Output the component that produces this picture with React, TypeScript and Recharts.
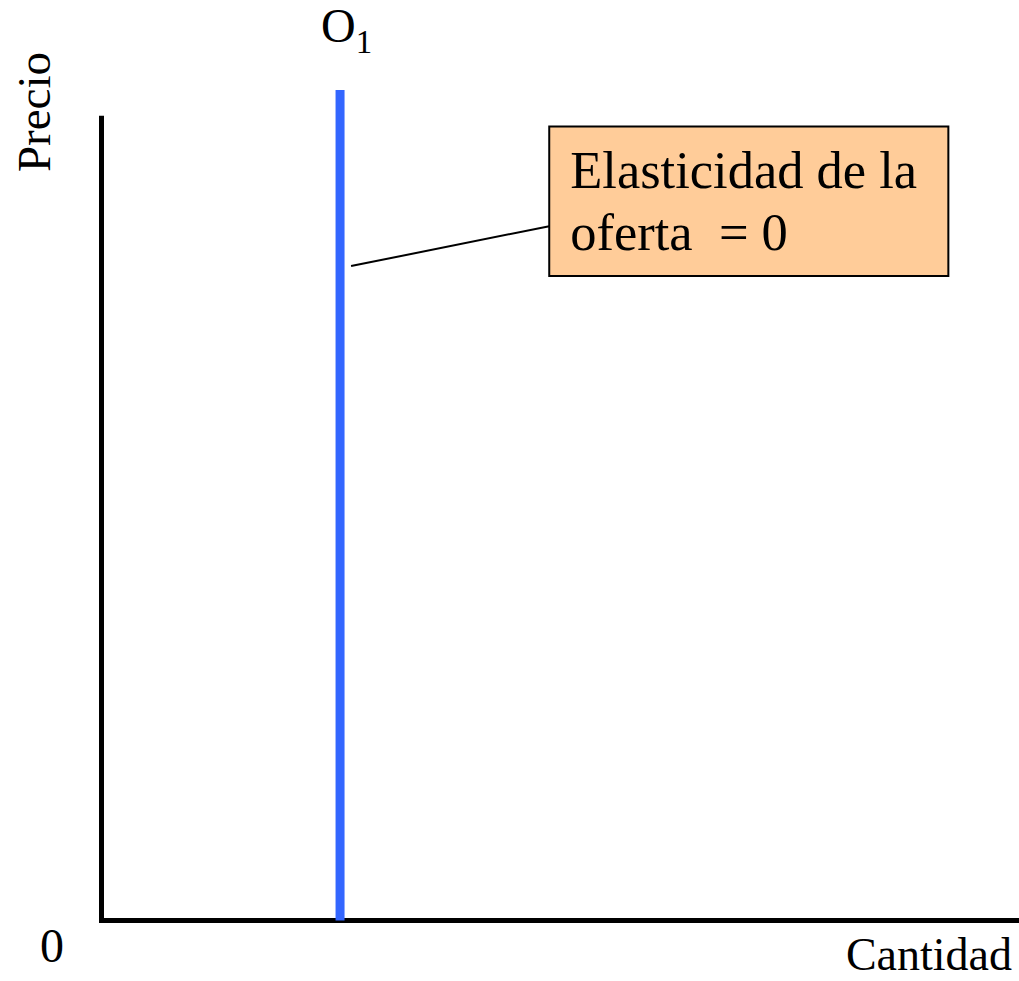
import { ComposedChart, Line, XAxis, YAxis, ReferenceLine, ReferenceArea, Customized } from 'recharts';

// supply curve O1: perfectly inelastic (vertical)
const supplyQty = [26, 26];
const supplyPrice = [0, 100];
const supplyData = supplyQty.map((q, i) => ({ q, p: supplyPrice[i] }));

// axes extents (data units)
const xAxisEnd = 100;
const yAxisEnd = 96.6;

// callout box + pointer (data units)
const boxX = [48.8, 92.3];
const boxY = [77.6, 95.6];
const pointerFrom = { x: 27.2, y: 78.8 };
const pointerTo = { x: 48.8, y: 83.6 };

const calloutLines = ['Elasticidad de la', 'oferta\u00a0 = 0'];
const curveName = 'O';
const curveSub = '1';
const yTitle = 'Precio';
const xTitle = 'Cantidad';
const originLabel = '0';

const serif = '"Liberation Serif", "Times New Roman", serif';

function CalloutText(props: any) {
  const { x, y } = props.viewBox;
  return (
    <g>
      {calloutLines.map((t, i) => (
        <text key={i} x={x + 21} y={y + 61.5 + i * 62} fontFamily={serif} fontSize={52.5} fill="#000">
          {t}
        </text>
      ))}
    </g>
  );
}

function Labels() {
  return (
    <g fontFamily={serif} fill="#000">
      <text x={321} y={42} fontSize={48}>
        {curveName}
        <tspan fontSize={33} dy={11}>{curveSub}</tspan>
      </text>
      <text x={50} y={112} fontSize={47} textAnchor="middle" transform="rotate(-90 50 112)">
        {yTitle}
      </text>
      <text x={1012} y={970} fontSize={46} textAnchor="end">{xTitle}</text>
      <text x={40} y={962} fontSize={48}>{originLabel}</text>
    </g>
  );
}

export default function App() {
  return (
    <div style={{ position: 'absolute', left: 0, top: 0, width: 1019, height: 981, background: '#fff' }}>
      <ComposedChart
        width={1019}
        height={981}
        data={supplyData}
        margin={{ top: 90, right: 0, left: 101.5, bottom: 60.5 }}
      >
        <XAxis type="number" dataKey="q" domain={[0, 100]} hide />
        <YAxis type="number" dataKey="p" domain={[0, 100]} hide />
        <ReferenceLine
          segment={[{ x: 0, y: 0 }, { x: 0, y: yAxisEnd }]}
          stroke="#000"
          strokeWidth={5}
          strokeLinecap="square"
          ifOverflow="visible"
        />
        <ReferenceLine
          segment={[{ x: 0, y: 0 }, { x: xAxisEnd, y: 0 }]}
          stroke="#000"
          strokeWidth={5}
          strokeLinecap="square"
          ifOverflow="visible"
        />
        <Line
          type="linear"
          dataKey="p"
          stroke="#3366FF"
          strokeWidth={9}
          dot={false}
          activeDot={false}
          isAnimationActive={false}
        />
        <ReferenceLine
          segment={[pointerFrom, pointerTo]}
          stroke="#000"
          strokeWidth={2}
          ifOverflow="visible"
        />
        <ReferenceArea
          x1={boxX[0]}
          x2={boxX[1]}
          y1={boxY[0]}
          y2={boxY[1]}
          fill="#FFCC99"
          fillOpacity={1}
          stroke="#000"
          strokeWidth={2}
          ifOverflow="visible"
          label={<CalloutText />}
        />
        <Customized component={Labels} />
      </ComposedChart>
    </div>
  );
}
